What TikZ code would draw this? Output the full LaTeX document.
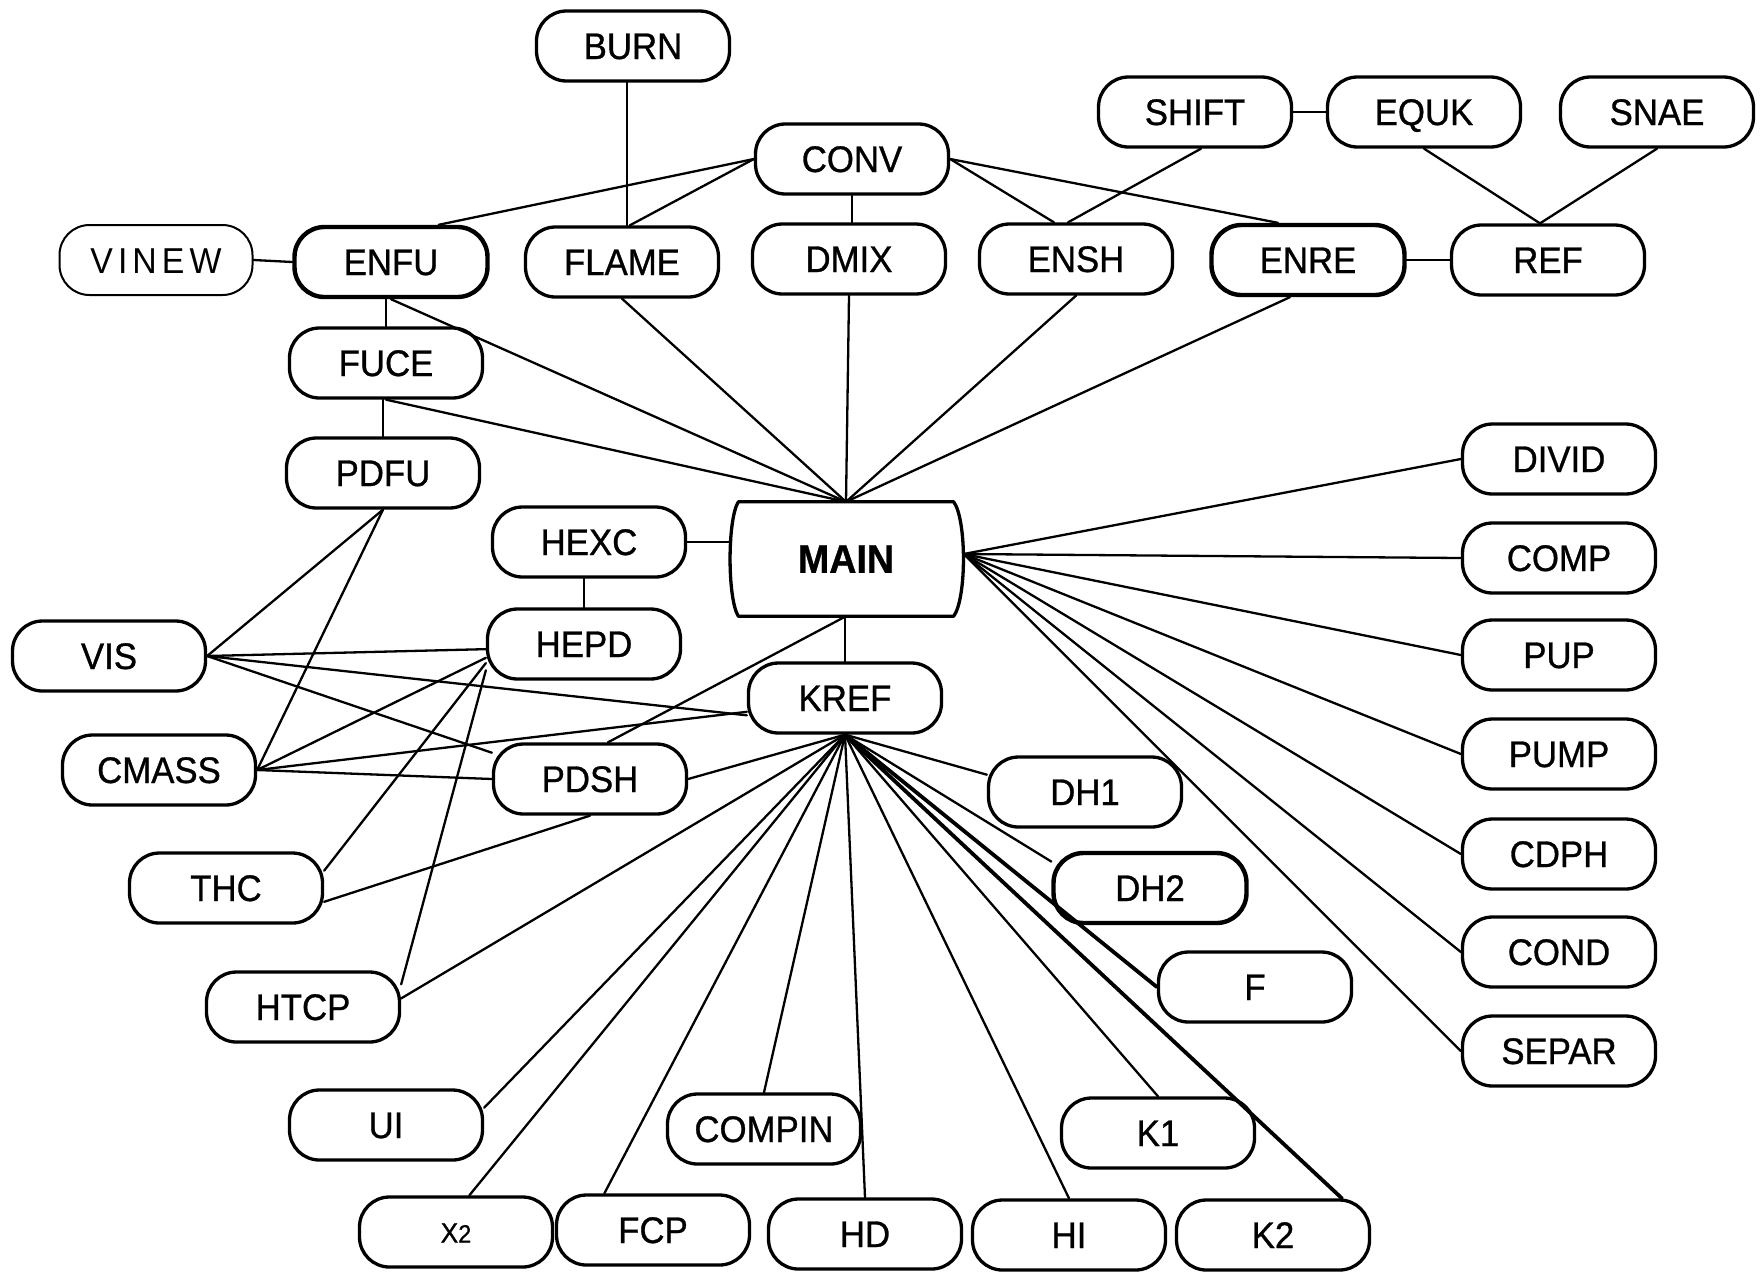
\documentclass[tikz,border=0pt]{standalone}
\usepackage{fontspec}
\setmainfont{Liberation Sans}[FakeBold=0.8, FakeStretch=0.94]
\usetikzlibrary{calc}
\begin{document}
\begin{tikzpicture}[x=1pt,y=-1pt,
  box/.style={draw, line width=3.3pt, rounded corners=30pt, minimum width=193pt, minimum height=70pt, inner sep=2pt, text height=26pt, text depth=0pt, font=\fontsize{37}{40}\selectfont},
  heavybox/.style={box, line width=4.4pt},
  thinbox/.style={box, line width=2pt, font=\fontsize{36}{40}\selectfont\addfontfeature{LetterSpace=14, FakeBold=0}},
  edge/.style={line width=2.3pt, line cap=round},
  thickedge/.style={line width=3.8pt, line cap=round}]
\useasboundingbox (0,0) rectangle (1760,1272);

% nodes
\node[box] (burn) at (633,46) {BURN};
\node[box] (conv) at (852,159) {CONV};
\node[box] (shift) at (1195,112) {SHIFT};
\node[box] (equk) at (1424,112) {EQUK};
\node[box] (snae) at (1657,112) {SNAE};
\node[thinbox] (vinew) at (156,260) {VINEW};
\node[heavybox] (enfu) at (391,262) {ENFU};
\node[box] (flame) at (622,262) {FLAME};
\node[box] (dmix) at (849,259) {DMIX};
\node[box] (ensh) at (1076,259) {ENSH};
\node[heavybox] (enre) at (1308,260) {ENRE};
\node[box] (ref) at (1548,260) {REF};
\node[box] (fuce) at (386,363) {FUCE};
\node[box] (pdfu) at (383,473) {PDFU};
\node[box] (hexc) at (589,542) {HEXC};
\node[minimum width=215pt, minimum height=114pt, font=\fontsize{40}{42}\selectfont\bfseries] (main) at (846,559) {MAIN};
\draw[line width=3.3pt, line join=round] (main.north west) -- (main.north east)
  .. controls +(13,18) and +(13,-18) .. (main.south east) -- (main.south west)
  .. controls +(-11,-18) and +(-11,18) .. (main.north west) -- cycle;
\coordinate (mainR) at ($(main.east)+(10,-5)$);
\coordinate (mainL) at ($(main.west)+(-7,0)$);
\node[box] (hepd) at (584,644) {HEPD};
\node[box] (vis) at (109,656) {VIS};
\node[box] (kref) at (845,698) {KREF};
\node[box] (cmass) at (159,770) {CMASS};
\node[box] (pdsh) at (590,779) {PDSH};
\node[box] (dh1) at (1085,792) {DH1};
\node[box] (thc) at (226,888) {THC};
\node[heavybox] (dh2) at (1150,888) {DH2};
\node[box] (htcp) at (303,1007) {HTCP};
\node[box] (f) at (1255,987) {F};
\node[box] (ui) at (386,1125) {UI};
\node[box] (compin) at (764,1129) {COMPIN};
\node[box] (k1) at (1158,1133) {K1};
\node[box, text height=21pt] (x2) at (456,1232) {{\fontsize{28}{30}\selectfont X}{\fontsize{25}{30}\selectfont 2}};
\node[box] (fcp) at (653,1230) {FCP};
\node[box] (hd) at (865,1234) {HD};
\node[box] (hi) at (1069,1235) {HI};
\node[box] (k2) at (1273,1235) {K2};
\node[box] (divid) at (1559,459) {DIVID};
\node[box] (comp) at (1559,558) {COMP};
\node[box] (pup) at (1559,655) {PUP};
\node[box] (pump) at (1559,754) {PUMP};
\node[box] (cdph) at (1559,854) {CDPH};
\node[box] (cond) at (1559,952) {COND};
\node[box] (separ) at (1559,1051) {SEPAR};

% top connectors
\draw[edge] ([xshift=-6pt]burn.south) -- ([xshift=-6pt]burn.south |- flame.north);
\draw[edge] (conv.west) -- (enfu.38);
\draw[edge] (conv.west) -- (flame.78);
\draw[edge] (conv.south) -- (conv.south |- dmix.north);
\draw[edge] (conv.east) -- (ensh.121);
\draw[edge] (conv.east) -- (enre.129);
\draw[edge] (shift.east) -- (equk.west);
\draw[edge] ([xshift=6pt]shift.south) -- ([xshift=-8pt]ensh.north);
\draw[edge] (equk.south) -- ([xshift=-8pt]ref.north);
\draw[edge] (snae.south) -- ([xshift=-8pt]ref.north);
\draw[edge] (enre.east) -- (ref.west);
\draw[edge] (vinew.east) -- (enfu.west);
\draw[edge] (fuce.north) -- (fuce.north |- enfu.south);
\draw[edge] (pdfu.north) -- (pdfu.north |- fuce.south);
\draw[edge] (hepd.north) -- (hepd.north |- hexc.south);
\draw[edge] (hexc.east) -- (hexc.east -| mainL);
\draw[edge] (kref.north) -- (kref.north |- main.south);

% fan into MAIN top
\draw[edge] (enfu.south) -- (main.north);
\draw[edge] (fuce.south) -- (main.north);
\draw[edge] (flame.south) -- (main.north);
\draw[edge] (dmix.south) -- (main.north);
\draw[edge] (ensh.south) -- (main.north);
\draw[edge] (enre.244) -- (main.north);

% fan from MAIN right
\foreach \n in {divid,comp,pup,pump,cdph,cond,separ}
  \draw[edge] (mainR) -- (\n.west);

% fan from KREF bottom
\draw[edge] (kref.south) -- (dh1.170);
\draw[edge] (kref.south) -- (dh2.165);
\draw[thickedge] (kref.south) -- (f.west);
\draw[edge] (kref.south) -- (k1.north);
\draw[thickedge] (kref.south) -- (k2.28);
\draw[edge] (kref.south) -- (hi.north);
\draw[edge] (kref.south) -- (hd.north);
\draw[edge] (kref.south) -- (compin.north);
\draw[edge] (kref.south) -- (fcp.143);
\draw[edge] (kref.south) -- (x2.70);
\draw[edge] (kref.south) -- (ui.10);
\draw[edge] (kref.south) -- (htcp.5);
\draw[edge] (kref.south) -- (pdsh.east);
\draw[edge] (pdsh.64) -- (main.south);

% left cluster
\draw[edge] (pdfu.south) -- (vis.east);
\draw[edge] (pdfu.south) -- (cmass.east);
\draw[edge] (vis.east) -- (hepd.183);
\draw[edge] (vis.east) -- (kref.190);
\draw[edge] (vis.east) -- (pdsh.165);
\draw[edge] (cmass.east) -- (hepd.188);
\draw[edge] (cmass.east) -- (kref.188);
\draw[edge] (cmass.east) -- (pdsh.west);
\draw[edge] (thc.10) -- (hepd.191);
\draw[edge] (thc.-8) -- (pdsh.south);
\draw[edge] (htcp.13) -- (hepd.195);
\end{tikzpicture}
\end{document}
